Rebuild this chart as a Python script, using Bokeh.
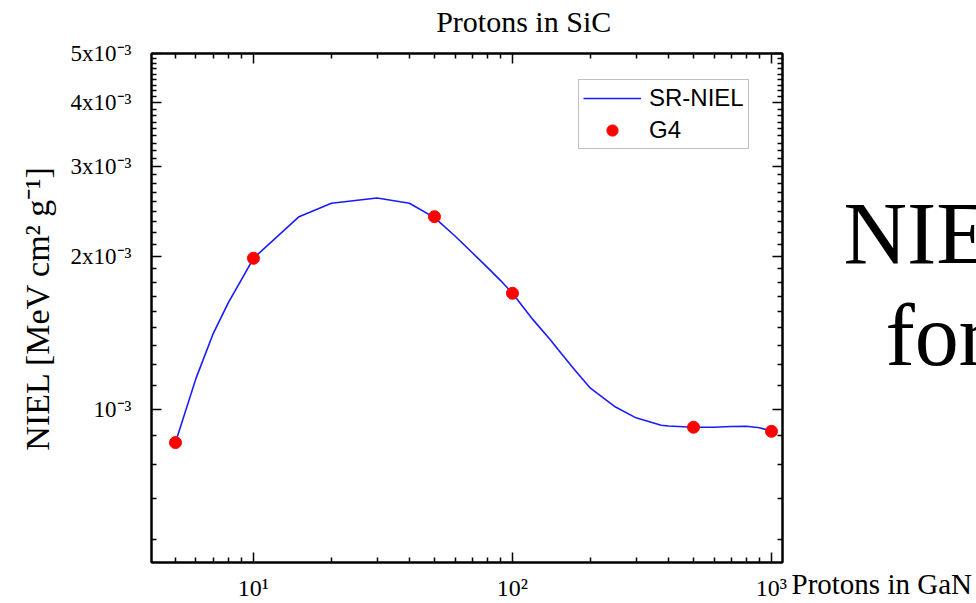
from bokeh.plotting import figure
from bokeh.models import FixedTicker, LogAxis, Range1d, Legend, LegendItem
from bokeh.layouts import row, column
from bokeh.core.properties import value
from bokeh.embed import file_html
from bokeh.resources import INLINE

# ---- data ----
energy_line = [5, 6, 7, 8, 9, 10, 15, 20, 30, 40, 50, 60, 70, 80, 90, 100, 120, 140,
               150, 175, 200, 250, 300, 375, 400, 500, 600, 700, 800, 900, 1000]
niel_line = [8.6e-4, 1.15e-3, 1.41e-3, 1.62e-3, 1.80e-3, 1.98e-3, 2.39e-3, 2.54e-3,
             2.60e-3, 2.54e-3, 2.38e-3, 2.19e-3, 2.03e-3, 1.90e-3, 1.79e-3, 1.69e-3,
             1.50e-3, 1.37e-3, 1.31e-3, 1.19e-3, 1.10e-3, 1.01e-3, 9.62e-4, 9.30e-4,
             9.27e-4, 9.22e-4, 9.22e-4, 9.25e-4, 9.26e-4, 9.20e-4, 9.05e-4]
g4_energy = [5, 10, 50, 100, 500, 1000]
g4_niel = [8.6e-4, 1.98e-3, 2.39e-3, 1.69e-3, 9.22e-4, 9.05e-4]

y_major = [1e-3, 2e-3, 3e-3, 4e-3, 5e-3]
y_labels = ["10\u207b\u00b3", "2x10\u207b\u00b3", "3x10\u207b\u00b3", "4x10\u207b\u00b3", "5x10\u207b\u00b3"]
x_major = [10, 100, 1000]
x_labels = ["10\u00b9", "10\u00b2", "10\u00b3"]

title_text = "Protons in SiC"
y_title = "NIEL [MeV cm\u00b2 g\u207b\u00b9]"
side_text = "Protons in GaN"
slide_words = ["NIE", "for"]

SERIF = "Liberation Serif"
SANS = "Liberation Sans"

# page geometry (pixels)
W, H = 976, 603
TITLE_H = 40
MAIN_W = 790
SIDE_W = W - MAIN_W

# minor ticks
y_minor = [k / 9 * 1e-3 for k in range(1, 9) if k / 9 * 1e-3 > 5e-4]
for m in y_major[:-1]:
    y_minor += [m + k / 9 * 1e-3 for k in range(1, 9)]
x_minor = [4, 5, 6, 7, 8, 9] + [d * 10 for d in range(2, 10)] + [d * 100 for d in range(2, 10)]


def blank(width, height):
    f = figure(width=width, height=height, x_range=Range1d(0, width),
               y_range=Range1d(height, 0), output_backend="svg", toolbar_location=None,
               x_axis_location=None, y_axis_location=None, min_border=0, title=None)
    f.grid.visible = False
    f.outline_line_color = None
    f.background_fill_color = "white"
    f.border_fill_color = "white"
    return f


# ---- title strip ----
pt = blank(MAIN_W, TITLE_H)
pt.text(x=[466], y=[21], text=[title_text], text_font=value(SERIF),
        text_font_size=value("30px"), text_align="center", text_baseline="alphabetic",
        text_color="black")

# ---- main plot ----
p = figure(width=MAIN_W, height=H - TITLE_H, x_axis_type="log", y_axis_type="log",
           x_range=Range1d(4.04, 1103), y_range=Range1d(5e-4, 5e-3),
           output_backend="svg", toolbar_location=None,
           min_border_left=151, min_border_right=MAIN_W - 782, min_border_top=53 - TITLE_H,
           min_border_bottom=41)
p.grid.visible = False
p.outline_line_color = "black"
p.outline_line_width = 2
p.background_fill_color = "white"
p.border_fill_color = "white"

xt = FixedTicker(ticks=x_major, minor_ticks=x_minor)
yt = FixedTicker(ticks=y_major, minor_ticks=y_minor)


def style(ax):
    ax.axis_line_color = "black"
    ax.axis_line_width = 2
    ax.major_tick_in = 10
    ax.major_tick_out = 0
    ax.minor_tick_in = 5
    ax.minor_tick_out = 0
    ax.major_tick_line_width = 1.5
    ax.minor_tick_line_width = 1.5
    ax.major_tick_line_color = "black"
    ax.minor_tick_line_color = "black"


p.xaxis.ticker = xt
p.yaxis.ticker = yt
style(p.xaxis[0])
style(p.yaxis[0])
p.xaxis.major_label_overrides = dict(zip(x_major, x_labels))
p.yaxis.major_label_overrides = dict(zip(y_major, y_labels))
for ax in (p.xaxis[0], p.yaxis[0]):
    ax.major_label_text_font = SERIF
    ax.major_label_text_color = "black"
p.xaxis.major_label_text_font_size = "24px"
p.yaxis.major_label_text_font_size = "23px"
p.xaxis.major_label_standoff = 12
p.yaxis.major_label_standoff = 20

p.yaxis.axis_label = y_title
p.yaxis.axis_label_text_font = SERIF
p.yaxis.axis_label_text_font_size = "34px"
p.yaxis.axis_label_text_font_style = "normal"
p.yaxis.axis_label_text_color = "black"
p.yaxis.axis_label_standoff = 12

top = LogAxis(ticker=xt, major_label_text_alpha=0, major_label_text_font_size="2px",
              major_label_standoff=0)
style(top)
p.add_layout(top, "above")
right = LogAxis(ticker=yt, major_label_text_alpha=0, major_label_text_font_size="2px",
                major_label_standoff=0)
style(right)
p.add_layout(right, "right")

line_r = p.line(energy_line, niel_line, line_color="#1a1aff", line_width=1.6)
pts_r = p.scatter(g4_energy, g4_niel, size=12, fill_color="#ff0000", line_color="#ff0000")

legend = Legend(items=[LegendItem(label="SR-NIEL", renderers=[line_r]),
                       LegendItem(label="G4", renderers=[pts_r])],
                location=(427, 413))
legend.border_line_color = "#808080"
legend.border_line_width = 1
legend.background_fill_color = "white"
legend.background_fill_alpha = 1
legend.label_text_font = SANS
legend.label_text_font_size = "24px"
legend.label_text_color = "black"
legend.glyph_width = 58
legend.glyph_height = 28
legend.label_height = 28
legend.label_standoff = 8
legend.padding = 4
legend.spacing = 4
legend.margin = 0
p.add_layout(legend, "center")

# ---- right strip (slide text next to the chart) ----
ps = blank(SIDE_W, H)
ps.text(x=[843 - MAIN_W, 885 - MAIN_W], y=[233, 335], text=slide_words,
        text_font=value(SERIF), text_font_size=value("88px"), text_align="left",
        text_baseline="alphabetic", text_color="black")
ps.text(x=[1], y=[583], text=[side_text], text_font=value(SERIF),
        text_font_size=value("29px"), text_align="left", text_baseline="alphabetic",
        text_color="black")

layout = row(column(pt, p, spacing=0), ps, spacing=0)
open("out.html", "w").write(file_html(layout, INLINE))
